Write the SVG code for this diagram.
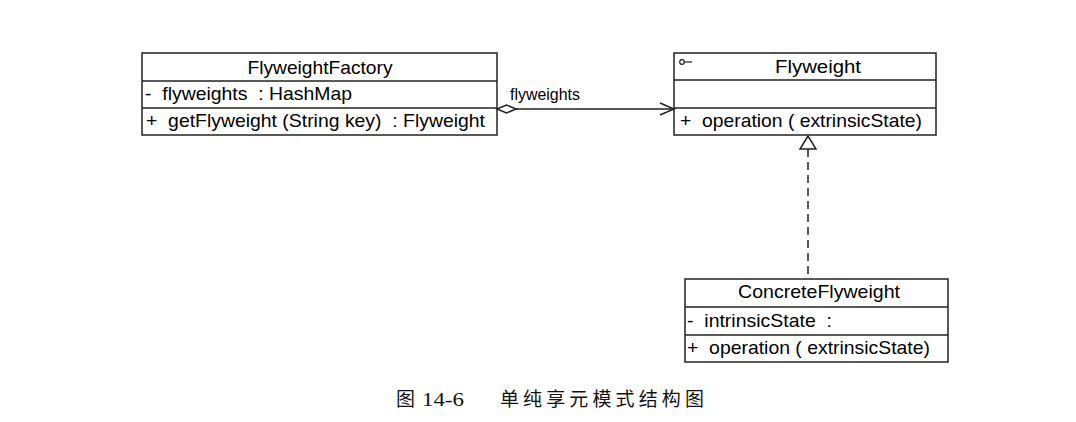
<svg xmlns="http://www.w3.org/2000/svg" width="1076" height="422" viewBox="0 0 1076 422">
<style>
.box{fill:#fff;stroke:#222;stroke-width:1.5}
.ln{stroke:#222;stroke-width:1.5;fill:none}
.t{font-family:"Liberation Sans",Arial,sans-serif;font-size:19px;fill:#000;white-space:pre}
.c{text-anchor:middle}
.cap{font-family:"Liberation Serif","Noto Sans CJK SC",serif;font-size:19px;fill:#111}
</style>
<rect width="1076" height="422" fill="#fff"/>
<g id="FlyweightFactory">
<rect class="box" x="142" y="53" width="355" height="82"/>
<line class="ln" x1="142" y1="81" x2="497" y2="81"/>
<line class="ln" x1="142" y1="108" x2="497" y2="108"/>
<text class="t c" x="320" y="74" textLength="145" lengthAdjust="spacingAndGlyphs">FlyweightFactory</text>
<text class="t" x="145" y="100" textLength="207" lengthAdjust="spacingAndGlyphs">-  flyweights  : HashMap</text>
<text class="t" x="146" y="127" textLength="339" lengthAdjust="spacingAndGlyphs">+  getFlyweight (String key)  : Flyweight</text>
</g>
<g id="Flyweight">
<rect class="box" x="674" y="53" width="262" height="82"/>
<line class="ln" x1="674" y1="80" x2="936" y2="80"/>
<line class="ln" x1="674" y1="108" x2="936" y2="108"/>
<circle cx="682" cy="62" r="2.3" fill="none" stroke="#222" stroke-width="1.2"/>
<line x1="684.3" y1="62" x2="692" y2="62" stroke="#222" stroke-width="1.2"/>
<text class="t c" x="818" y="73" textLength="86" lengthAdjust="spacingAndGlyphs">Flyweight</text>
<text class="t" x="680" y="127" textLength="242" lengthAdjust="spacingAndGlyphs">+  operation ( extrinsicState)</text>
</g>
<g id="ConcreteFlyweight">
<rect class="box" x="685" y="279" width="263" height="83"/>
<line class="ln" x1="685" y1="307" x2="948" y2="307"/>
<line class="ln" x1="685" y1="335" x2="948" y2="335"/>
<text class="t c" x="819" y="298" textLength="162" lengthAdjust="spacingAndGlyphs">ConcreteFlyweight</text>
<text class="t" x="687" y="327" textLength="145" lengthAdjust="spacingAndGlyphs">-  intrinsicState  :</text>
<text class="t" x="687" y="354" textLength="243" lengthAdjust="spacingAndGlyphs">+  operation ( extrinsicState)</text>
</g>
<g id="connectors">
<line class="ln" x1="516" y1="109" x2="673" y2="109"/>
<polygon points="497,109 506.5,105 516,109 506.5,113" fill="#fff" stroke="#222" stroke-width="1.5"/>
<polyline class="ln" points="660,103 674,109 660,115"/>
<text class="t" x="510" y="100" style="font-size:16px" textLength="70" lengthAdjust="spacingAndGlyphs">flyweights</text>
<line class="ln" x1="808" y1="149" x2="808" y2="279" stroke-dasharray="8,5"/>
<polygon points="808,136 800,149 816,149" fill="#fff" stroke="#222" stroke-width="1.5"/>
</g>
<g id="caption">
<text class="cap" x="396" y="406">图</text>
<text class="cap" x="422" y="406" textLength="42" lengthAdjust="spacingAndGlyphs">14-6</text>
<text class="cap" x="500" y="406" textLength="204" lengthAdjust="spacing">单纯享元模式结构图</text>
</g>
</svg>
